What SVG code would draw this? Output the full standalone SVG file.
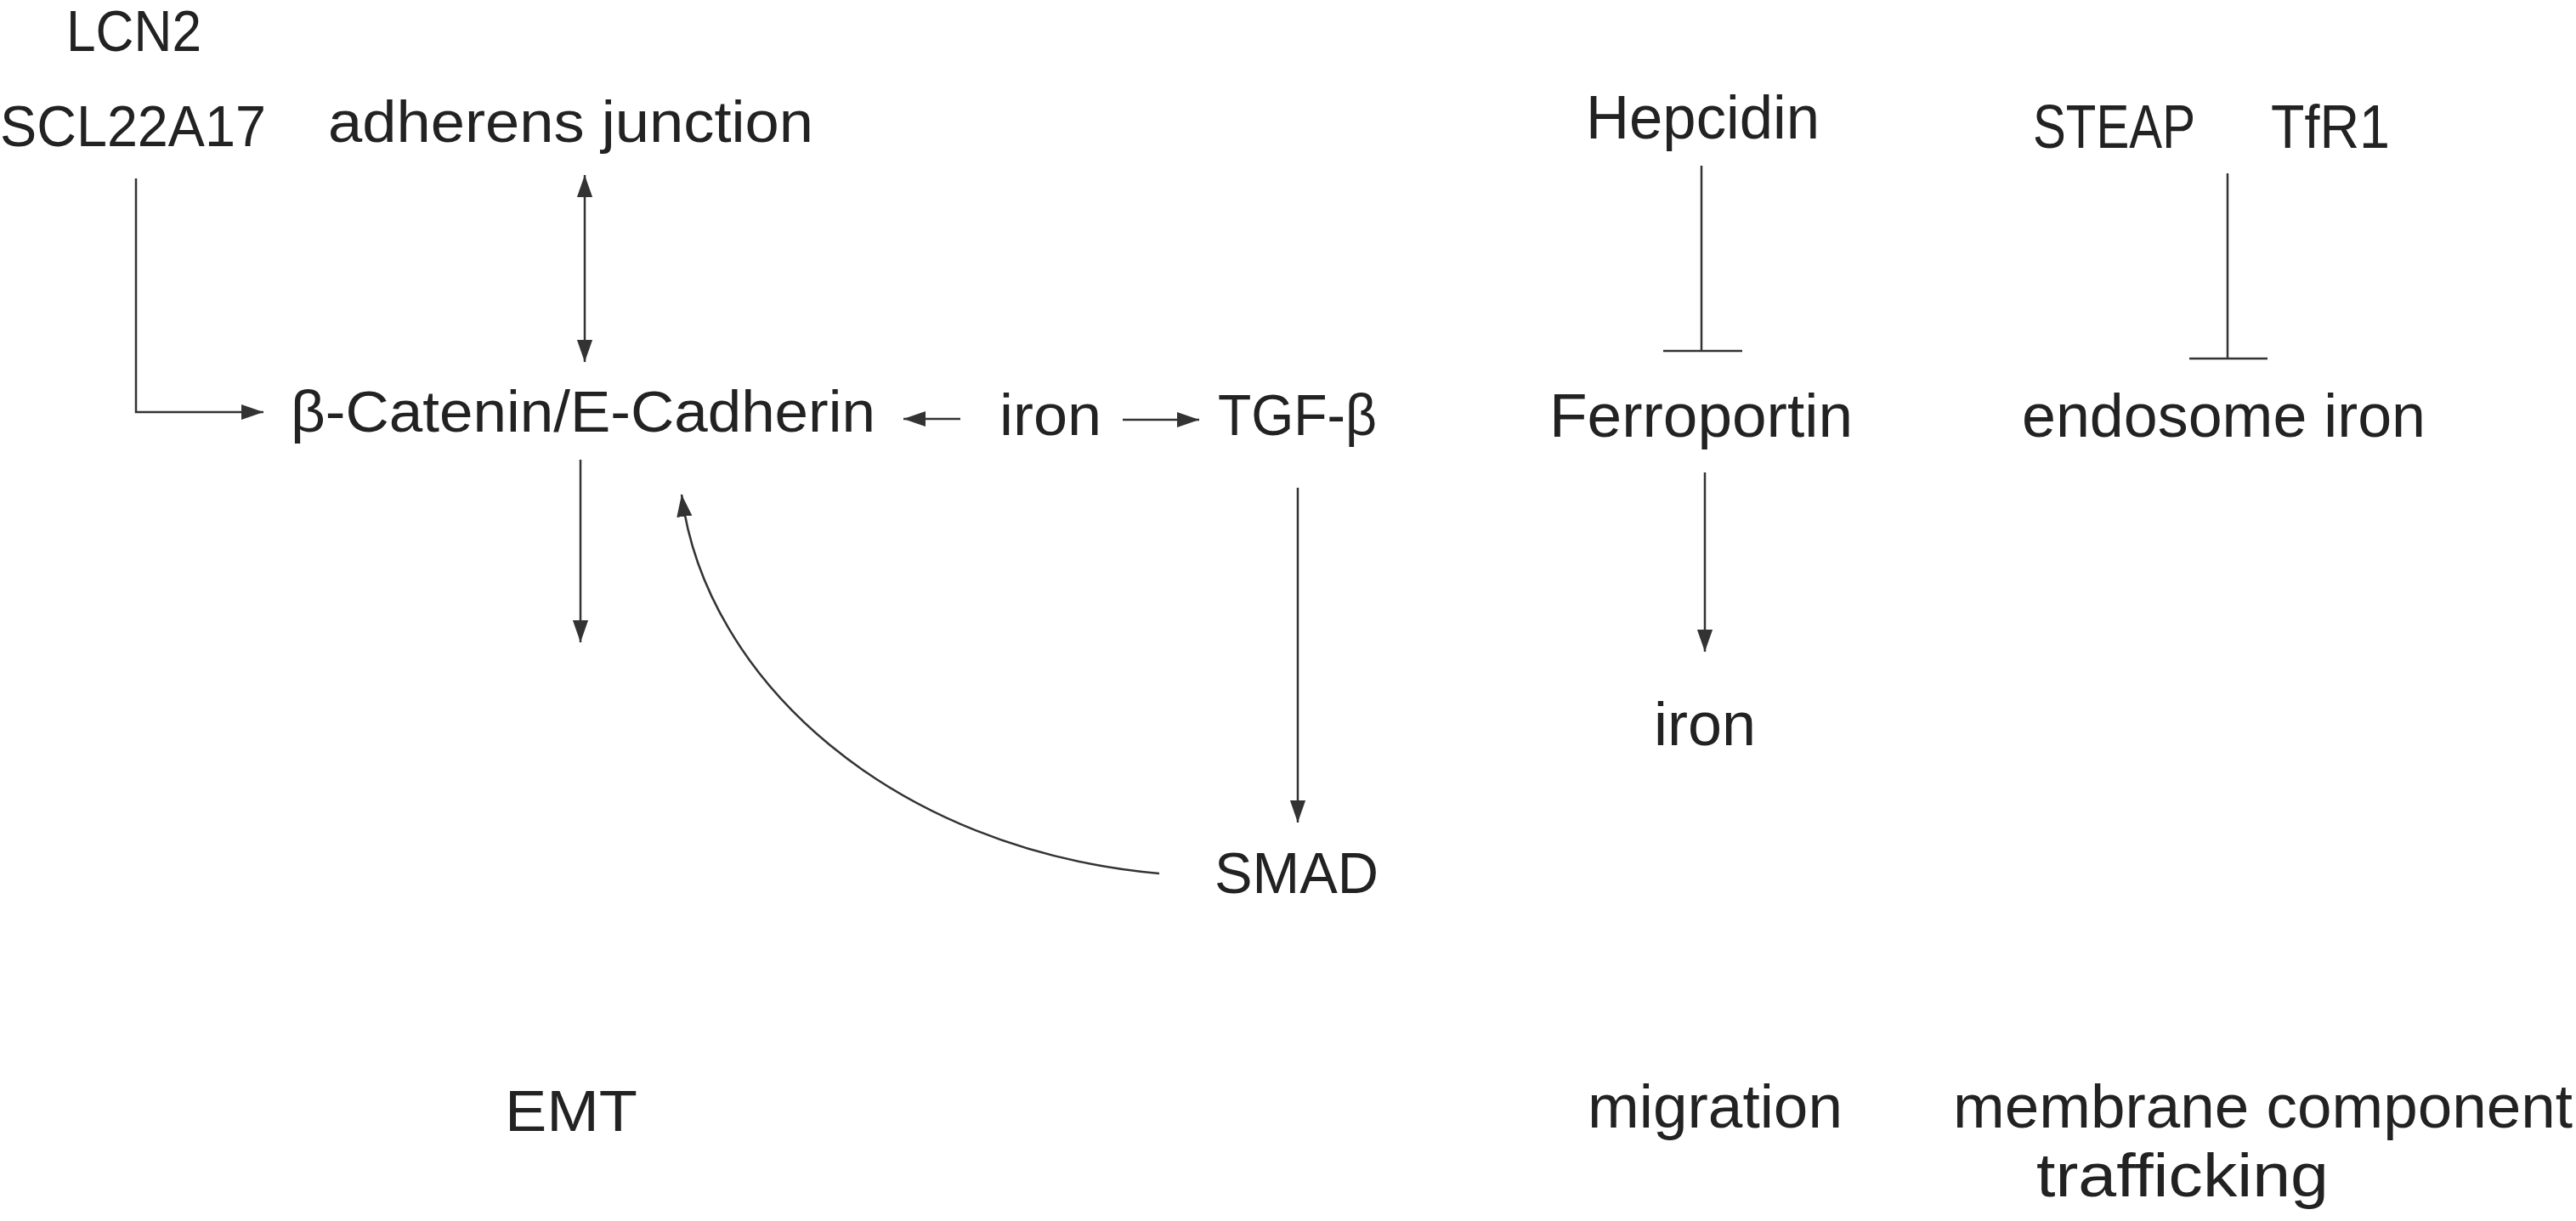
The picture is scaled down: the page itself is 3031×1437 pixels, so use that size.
<svg xmlns="http://www.w3.org/2000/svg" width="3031" height="1437" viewBox="0 0 3031 1437">
<style>
text{font-family:"Liberation Sans",Arial,sans-serif;fill:#222}
.l{font-size:68px}.r{font-size:72px}
.c{fill:none;stroke:#333;stroke-width:2.5}
</style>
<defs>
<marker id="b" viewBox="0 0 10 10" refX="10" refY="5" markerWidth="26" markerHeight="26" markerUnits="userSpaceOnUse" orient="auto-start-reverse"><path d="M0,1.5L10,5L0,8.5z" fill="#333"/></marker>
</defs>
<rect width="3031" height="1437" fill="#fff"/>
<g id="n-lcn2"><text class="l" x="78" y="60" textLength="159" lengthAdjust="spacingAndGlyphs">LCN2</text></g>
<g id="n-scl"><text class="l" x="0" y="172" textLength="313" lengthAdjust="spacingAndGlyphs">SCL22A17</text></g>
<g id="n-adh"><text class="l" x="386" y="167" textLength="571" lengthAdjust="spacingAndGlyphs">adherens junction</text></g>
<g id="n-cat"><text class="l" x="342" y="508" textLength="688" lengthAdjust="spacingAndGlyphs">β-Catenin/E-Cadherin</text></g>
<g id="n-iron1"><text class="l" x="1176" y="512" textLength="120" lengthAdjust="spacingAndGlyphs">iron</text></g>
<g id="n-tgf"><text class="l" x="1433" y="512" textLength="187" lengthAdjust="spacingAndGlyphs">TGF-β</text></g>
<g id="n-smad"><text class="l" x="1429" y="1051" textLength="193" lengthAdjust="spacingAndGlyphs">SMAD</text></g>
<g id="n-emt"><text class="l" x="594" y="1331" textLength="156" lengthAdjust="spacingAndGlyphs">EMT</text></g>
<g id="n-hep"><text class="r" x="1866" y="163" textLength="275" lengthAdjust="spacingAndGlyphs">Hepcidin</text></g>
<g id="n-steap"><text class="r" x="2392" y="174" textLength="191" lengthAdjust="spacingAndGlyphs">STEAP</text></g>
<g id="n-tfr"><text class="r" x="2672" y="174" textLength="140" lengthAdjust="spacingAndGlyphs">TfR1</text></g>
<g id="n-fpn"><text class="r" x="1823" y="514" textLength="357" lengthAdjust="spacingAndGlyphs">Ferroportin</text></g>
<g id="n-endo"><text class="r" x="2379" y="514" textLength="475" lengthAdjust="spacingAndGlyphs">endosome iron</text></g>
<g id="n-iron2"><text class="r" x="1946" y="877" textLength="120" lengthAdjust="spacingAndGlyphs">iron</text></g>
<g id="n-mig"><text class="r" x="1868" y="1327" textLength="300" lengthAdjust="spacingAndGlyphs">migration</text></g>
<g id="n-mem"><text class="r" x="2298" y="1327" textLength="729" lengthAdjust="spacingAndGlyphs">membrane component</text><text class="r" x="2396" y="1408" textLength="344" lengthAdjust="spacingAndGlyphs">trafficking</text></g>
<g id="connectors">
<path class="c" d="M160,210V485H310" marker-end="url(#b)"/>
<path class="c" d="M688,206V426" marker-start="url(#b)" marker-end="url(#b)"/>
<path class="c" d="M683,541V756" marker-end="url(#b)"/>
<path class="c" d="M1130,493H1063" marker-end="url(#b)"/>
<path class="c" d="M1321,494H1411" marker-end="url(#b)"/>
<path class="c" d="M1527,574V968" marker-end="url(#b)"/>
<path class="c" d="M1364,1028C1050,1000 830,800 802,582" marker-end="url(#b)"/>
<path class="c" d="M2002,195V413M1957,413H2050"/>
<path class="c" d="M2621,204V422M2576,422H2668"/>
<path class="c" d="M2006,556V767" marker-end="url(#b)"/>
</g>
</svg>
